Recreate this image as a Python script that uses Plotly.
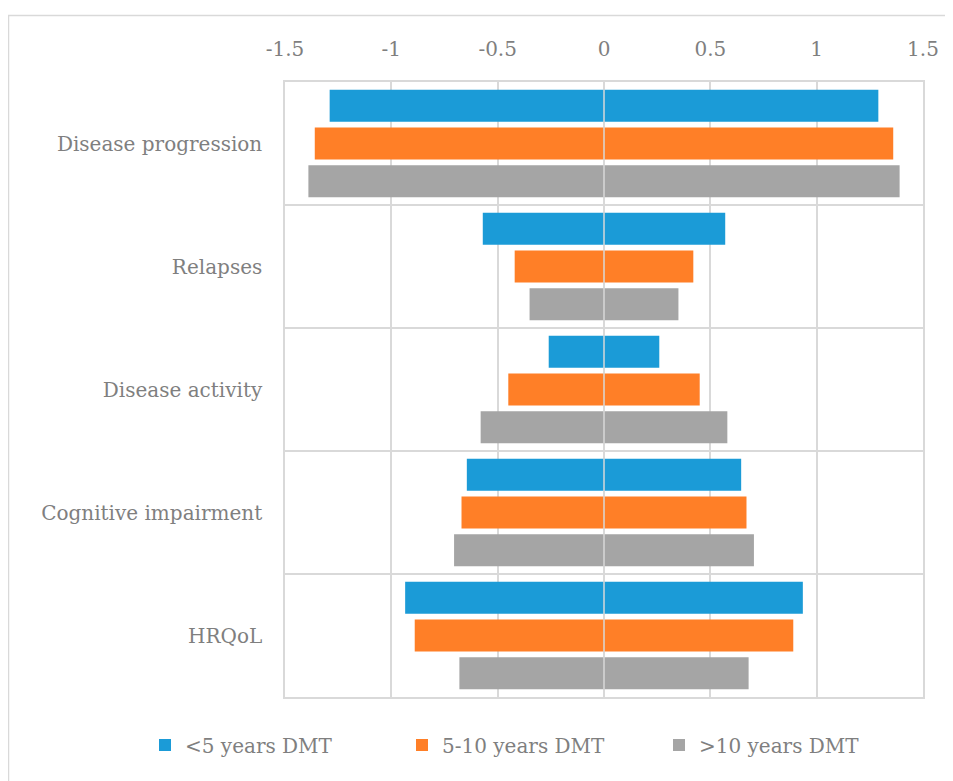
import plotly.graph_objects as go

categories = ["Disease progression", "Relapses", "Disease activity", "Cognitive impairment", "HRQoL"]
series_names = ["<5 years DMT", "5-10 years DMT", ">10 years DMT"]
lt5_values = [1.29, 0.57, 0.26, 0.645, 0.935]
mid_values = [1.36, 0.42, 0.45, 0.67, 0.89]
gt10_values = [1.39, 0.35, 0.58, 0.705, 0.68]
colors = ["#1b9bd7", "#ff7f27", "#a5a5a5"]
x_ticks = [-1.5, -1, -0.5, 0, 0.5, 1, 1.5]
x_tick_labels = ["-1.5", "-1", "-0.5", "0", "0.5", "1", "1.5"]

FONT = "DejaVu Serif"
TXT = "#7f7f7f"
GRID = "#d9d9d9"

W, H = 945, 773
ML, MR, MT, MB = 277, 30, 74, 84
PW, PH = W - ML - MR, H - MT - MB

ypos = list(range(len(categories)))
fig = go.Figure()
for name, vals, col in zip(series_names, [lt5_values, mid_values, gt10_values], colors):
    fig.add_trace(go.Bar(
        y=ypos, x=[-v for v in vals], orientation="h", name=name,
        marker=dict(color=col, line=dict(width=0)), offsetgroup=name,
        legendgroup=name, showlegend=False, hoverinfo="skip"))
    fig.add_trace(go.Bar(
        y=ypos, x=vals, orientation="h", name=name,
        marker=dict(color=col, line=dict(width=0)), offsetgroup=name,
        legendgroup=name, showlegend=True))

fig.update_layout(
    width=W, height=H,
    margin=dict(l=ML, r=MR, t=MT, b=MB, autoexpand=False),
    paper_bgcolor="white", plot_bgcolor="white",
    barmode="group", bargap=0.08, bargroupgap=0.15,
    font=dict(family=FONT, size=20, color=TXT),
    legend=dict(orientation="h", xref="paper", yref="paper",
                x=(137 - ML) / PW, xanchor="left",
                y=-(737 - (MT + PH)) / PH, yanchor="middle",
                font=dict(size=20, color=TXT),
                entrywidth=212, entrywidthmode="pixels",
                traceorder="normal"),
    showlegend=True,
)
fig.update_xaxes(
    range=[-1.5, 1.5], side="top", tickvals=x_ticks, ticktext=x_tick_labels,
    showgrid=True, gridcolor=GRID, gridwidth=1.5, zeroline=False,
    showline=True, mirror=True, linecolor=GRID, linewidth=1.5,
    ticks="", ticklabelstandoff=16, tickfont=dict(size=20, color=TXT))
fig.update_yaxes(
    range=[len(categories) - 0.5, -0.5], tickvals=ypos, ticktext=categories,
    showgrid=False, zeroline=False,
    minor=dict(tickvals=[i + 0.5 for i in ypos[:-1]], showgrid=True, gridcolor=GRID, gridwidth=1.5),
    showline=True, mirror=True, linecolor=GRID, linewidth=1.5,
    ticks="", ticklabelstandoff=17, tickfont=dict(size=20, color=TXT))

fig.add_shape(type="line", xref="x", yref="paper", x0=0, x1=0, y0=0, y1=1,
              line=dict(color=GRID, width=1.5), layer="above")
fig.add_shape(type="rect", xref="paper", yref="paper",
              x0=(0.5 - ML) / PW, x1=2, y0=-2, y1=1 + (MT - 7.5) / PH,
              line=dict(color=GRID, width=1.5), layer="below")

fig.write_html("out.html")
